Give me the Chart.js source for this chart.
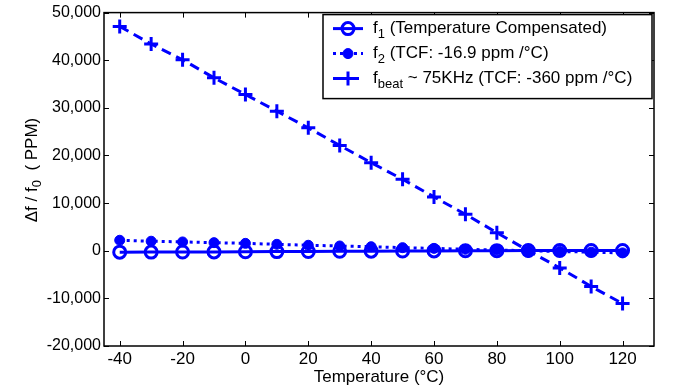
<!DOCTYPE html>
<html>
<head>
<meta charset="utf-8">
<script src="https://cdn.jsdelivr.net/npm/chart.js@4/dist/chart.umd.min.js"></script>
<style>
html,body{margin:0;padding:0;background:#fff;}
canvas{display:block;}
</style>
</head>
<body>
<canvas id="c" width="675" height="391"></canvas>
<script>
const temps = [-40,-30,-20,-10,0,10,20,30,40,50,60,70,80,90,100,110,120];
const f1Vals = [-300,-280,-260,-240,-210,-180,-150,-120,-90,-60,-30,0,20,40,60,60,50];
const f2Vals = [2200,2000,1850,1700,1550,1350,1150,1000,850,650,500,300,150,0,-150,-300,-450];
const fbeatVals = [47100,43400,40100,36300,32800,29300,25800,22100,18500,15000,11300,7650,3800,0,-3600,-7500,-11100];
const xTicks = [-40,-20,0,20,40,60,80,100,120];
const yTicks = [-20000,-10000,0,10000,20000,30000,40000,50000];
const legendMain = ['f','f','f'];
const legendSub = ['1','2','beat'];
const legendRest = [' (Temperature Compensated)',' (TCF: -16.9 ppm /\u00B0C)',' ~ 75KHz (TCF: -360 ppm /\u00B0C)'];
const xTitle = 'Temperature (\u00B0C)';
const yTitleParts = ['\u0394f / f','0','  ( PPM)'];

const FONT = '"Liberation Sans", Arial, Helvetica, sans-serif';
const BLUE = '#0000ff';

function drawSubText(ctx, x, y, main, sub, rest, size, subSize, subShift){
  ctx.font = size + 'px ' + FONT;
  ctx.fillText(main, x, y);
  x += ctx.measureText(main).width;
  ctx.font = subSize + 'px ' + FONT;
  ctx.fillText(sub, x, y + subShift);
  x += ctx.measureText(sub).width;
  ctx.font = size + 'px ' + FONT;
  ctx.fillText(rest, x, y);
}

const decor = {
  id: 'decor',
  afterDraw(chart){
    const ctx = chart.ctx;
    const a = chart.chartArea;
    const xs = chart.scales.x, ys = chart.scales.y;
    ctx.save();
    // box
    ctx.strokeStyle = '#000';
    ctx.lineWidth = 1.5;
    ctx.strokeRect(a.left, a.top, a.right - a.left, a.bottom - a.top);
    // inside ticks
    ctx.lineWidth = 1;
    const tl = 5;
    ctx.beginPath();
    xTicks.forEach(v => {
      const px = Math.round(xs.getPixelForValue(v)) + 0.5;
      ctx.moveTo(px, a.bottom); ctx.lineTo(px, a.bottom - tl);
      ctx.moveTo(px, a.top); ctx.lineTo(px, a.top + tl);
    });
    yTicks.forEach(v => {
      const py = Math.round(ys.getPixelForValue(v)) + 0.5;
      ctx.moveTo(a.left, py); ctx.lineTo(a.left + tl, py);
      ctx.moveTo(a.right, py); ctx.lineTo(a.right - tl, py);
    });
    ctx.stroke();

    // y title
    ctx.fillStyle = '#000';
    ctx.textBaseline = 'middle';
    ctx.textAlign = 'left';
    ctx.save();
    ctx.translate(32, 170);
    ctx.rotate(-Math.PI/2);
    ctx.font = '17px ' + FONT;
    const w0 = ctx.measureText(yTitleParts[0]).width + ctx.measureText(yTitleParts[2]).width;
    ctx.font = '13px ' + FONT;
    const w1 = ctx.measureText(yTitleParts[1]).width;
    drawSubText(ctx, -(w0 + w1)/2, 0, yTitleParts[0], yTitleParts[1], yTitleParts[2], 17, 13, 5);
    ctx.restore();

    // legend
    const lw = 329, lh = 84;
    const lx = a.right - lw - 2, ly = a.top + 2;
    ctx.fillStyle = '#fff';
    ctx.fillRect(lx, ly, lw, lh);
    ctx.strokeStyle = '#000';
    ctx.lineWidth = 1.5;
    ctx.strokeRect(lx, ly, lw, lh);
    chart.data.datasets.forEach((ds, i) => {
      const ry = ly + 14 + i * 25;
      ctx.save();
      ctx.strokeStyle = ds.borderColor;
      ctx.lineWidth = ds.borderWidth;
      ctx.setLineDash(ds.borderDash || []);
      ctx.beginPath();
      ctx.moveTo(lx + 10, ry); ctx.lineTo(lx + 40, ry);
      ctx.stroke();
      ctx.setLineDash([]);
      const mx = lx + 25;
      ctx.lineWidth = ds.pointBorderWidth;
      if (ds.pointStyle === 'circle') {
        ctx.beginPath();
        ctx.arc(mx, ry, ds.pointRadius, 0, Math.PI*2);
        if (ds.pointBackgroundColor !== 'rgba(0,0,0,0)') { ctx.fillStyle = ds.pointBackgroundColor; ctx.fill(); }
        ctx.stroke();
      } else {
        const r = ds.pointRadius;
        ctx.beginPath();
        ctx.moveTo(mx - r, ry); ctx.lineTo(mx + r, ry);
        ctx.moveTo(mx, ry - r); ctx.lineTo(mx, ry + r);
        ctx.stroke();
      }
      ctx.restore();
      ctx.fillStyle = '#000';
      ctx.textBaseline = 'middle';
      drawSubText(ctx, lx + 50, ry, legendMain[i], legendSub[i], legendRest[i], 17, 13, 6);
    });
    ctx.restore();
  }
};

new Chart(document.getElementById('c'), {
  type: 'line',
  data: {
    datasets: [
      {
        label: 'f1 (Temperature Compensated)',
        data: temps.map((t, i) => ({x: t, y: f1Vals[i]})),
        borderColor: BLUE, borderWidth: 3, borderDash: [],
        pointStyle: 'circle', pointRadius: 6, pointBorderWidth: 3,
        pointBorderColor: BLUE, pointBackgroundColor: 'rgba(0,0,0,0)',
        order: 2
      },
      {
        label: 'f2 (TCF: -16.9 ppm /\u00B0C)',
        data: temps.map((t, i) => ({x: t, y: f2Vals[i]})),
        borderColor: BLUE, borderWidth: 3, borderDash: [3, 4],
        pointStyle: 'circle', pointRadius: 5, pointBorderWidth: 1,
        pointBorderColor: BLUE, pointBackgroundColor: BLUE,
        order: 1
      },
      {
        label: 'fbeat ~ 75KHz (TCF: -360 ppm /\u00B0C)',
        data: temps.map((t, i) => ({x: t, y: fbeatVals[i]})),
        borderColor: BLUE, borderWidth: 3, borderDash: [10, 6],
        pointStyle: 'cross', pointRadius: 7, pointBorderWidth: 3,
        pointBorderColor: BLUE, pointBackgroundColor: BLUE,
        order: 0
      }
    ]
  },
  options: {
    responsive: false,
    animation: false,
    devicePixelRatio: 1,
    layout: { padding: { top: 10, right: 21, left: 0, bottom: 0 } },
    plugins: { legend: { display: false }, tooltip: { enabled: false } },
    scales: {
      x: {
        type: 'linear', min: -45, max: 130,
        afterBuildTicks: s => { s.ticks = xTicks.map(v => ({value: v})); },
        afterFit: s => { s.height = 45; },
        grid: { display: false, drawTicks: false }, border: { display: false },
        ticks: { color: '#000', font: { family: FONT, size: 17 }, padding: 3, maxRotation: 0, autoSkip: false },
        title: { display: true, text: xTitle, color: '#000', font: { family: FONT, size: 17 }, padding: { top: 0, bottom: 3 } }
      },
      y: {
        type: 'linear', min: -20000, max: 50000,
        afterBuildTicks: s => { s.ticks = yTicks.map(v => ({value: v})); },
        afterFit: s => { s.width = 104; },
        grid: { display: false, drawTicks: false }, border: { display: false },
        ticks: { color: '#000', font: { family: FONT, size: 16 }, padding: 3,
          callback: v => v.toLocaleString('en-US') }
      }
    }
  },
  plugins: [decor]
});
</script>
</body>
</html>
